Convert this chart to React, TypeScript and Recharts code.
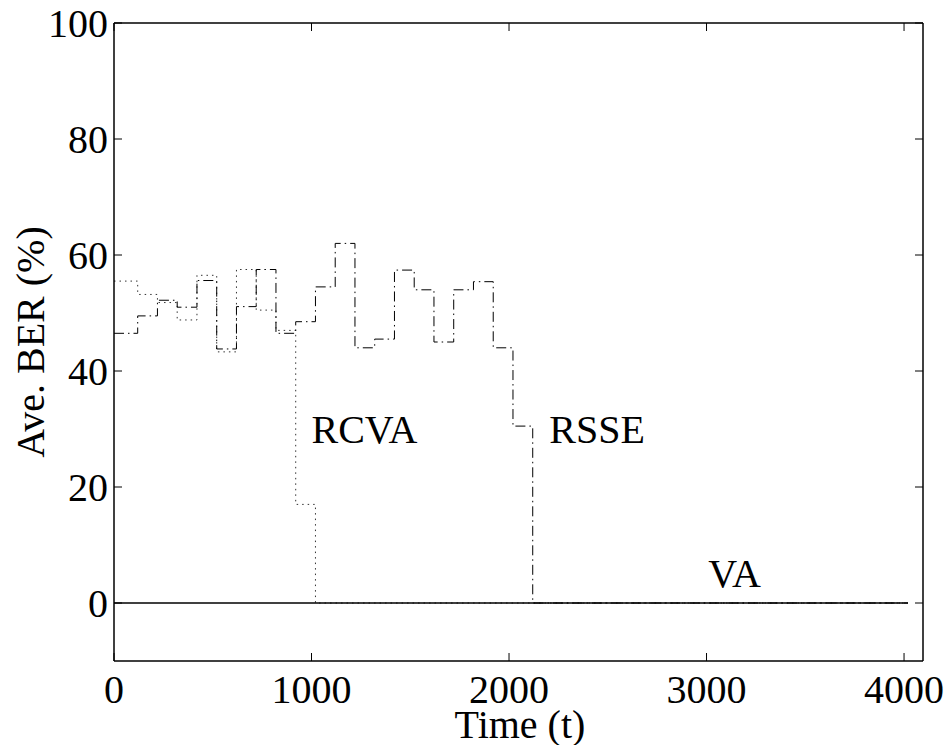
import React from "react";
import {
  LineChart,
  Line,
  XAxis,
  YAxis,
  ReferenceDot,
} from "recharts";

// block start times (last entry closes the final step)
const times = [
  0, 120, 220, 320, 420, 520, 620, 720, 820, 920, 1020, 1120, 1220, 1320,
  1420, 1520, 1620, 1720, 1820, 1920, 2020, 2120, 4020,
];
const rsse = [
  46.5, 49.5, 52.2, 51, 55.6, 43.8, 51.1, 57.5, 46.5, 48.5, 54.5, 62, 44, 45.5,
  57.4, 54, 45, 54, 55.4, 44, 30.5, 0, 0,
];
const rcva = [
  55.5, 53.2, 51.8, 48.8, 56.5, 43.3, 57.5, 50.5, 47, 17, 0, 0, 0, 0, 0, 0, 0,
  0, 0, 0, 0, 0, 0,
];
const va = [
  0, 0, 0, 0, 0, 0, 0, 0, 0, 0, 0, 0, 0, 0, 0, 0, 0, 0, 0, 0, 0, 0, 0,
];

const xTicks = [0, 1000, 2000, 3000, 4000];
const yTicks = [0, 20, 40, 60, 80, 100];

const labelNames = ["RCVA", "RSSE", "VA"];
const labelX = [1000, 2204, 3009];
const labelY = [27.6, 27.6, 2.7];

const data = times.map((t, i) => ({
  t,
  rsse: rsse[i],
  rcva: rcva[i],
  va: va[i],
}));

const FONT = '"Liberation Serif", "Times New Roman", serif';

function BottomTick(props: any) {
  const { x, y, payload } = props;
  return (
    <g>
      <line x1={x} y1={y} x2={x} y2={y - 8} stroke="#000" strokeWidth={1} />
      <text
        x={x}
        y={y + 42}
        textAnchor="middle"
        fontFamily={FONT}
        fontSize={40}
        fill="#000"
      >
        {payload.value}
      </text>
    </g>
  );
}

function TopTick(props: any) {
  const { x, y } = props;
  return <line x1={x} y1={y} x2={x} y2={y + 8} stroke="#000" strokeWidth={1} />;
}

function LeftTick(props: any) {
  const { x, y, payload } = props;
  return (
    <g>
      <line x1={x} y1={y} x2={x + 8} y2={y} stroke="#000" strokeWidth={1} />
      <text
        x={x - 6}
        y={y + 13.5}
        textAnchor="end"
        fontFamily={FONT}
        fontSize={40}
        fill="#000"
      >
        {payload.value}
      </text>
    </g>
  );
}

function RightTick(props: any) {
  const { x, y } = props;
  return <line x1={x} y1={y} x2={x - 8} y2={y} stroke="#000" strokeWidth={1} />;
}

function TextLabel(name: string) {
  return (props: any) => {
    const vb = props.viewBox || {};
    return (
      <text x={vb.x} y={vb.y} fontFamily={FONT} fontSize={40} fill="#000">
        {name}
      </text>
    );
  };
}

export default function App() {
  return (
    <div style={{ position: "absolute", left: 0, top: 0, background: "#fff" }}>
      <LineChart
        width={948}
        height={745}
        data={data}
        margin={{ top: 22, right: 24, bottom: 83, left: 113 }}
      >
        <XAxis
          dataKey="t"
          type="number"
          domain={[0, 4096]}
          ticks={xTicks}
          height={1}
          tickSize={0}
          tickMargin={0}
          tickLine={false}
          axisLine={{ stroke: "#000", strokeWidth: 1.5 }}
          tick={<BottomTick />}
          interval={0}
          allowDataOverflow
        />
        <XAxis
          xAxisId="top"
          orientation="top"
          dataKey="t"
          type="number"
          domain={[0, 4096]}
          ticks={xTicks}
          height={1}
          tickSize={0}
          tickMargin={0}
          tickLine={false}
          axisLine={{ stroke: "#000", strokeWidth: 1.5 }}
          tick={<TopTick />}
          interval={0}
          allowDataOverflow
        />
        <YAxis
          type="number"
          domain={[-10, 100]}
          ticks={yTicks}
          width={1}
          tickSize={0}
          tickMargin={0}
          tickLine={false}
          axisLine={{ stroke: "#000", strokeWidth: 1.5 }}
          tick={<LeftTick />}
          interval={0}
          allowDataOverflow
        />
        <YAxis
          yAxisId="right"
          orientation="right"
          type="number"
          domain={[-10, 100]}
          ticks={yTicks}
          width={1}
          tickSize={0}
          tickMargin={0}
          tickLine={false}
          axisLine={{ stroke: "#000", strokeWidth: 1.5 }}
          tick={<RightTick />}
          interval={0}
          allowDataOverflow
        />
        <Line
          dataKey="rcva"
          type="stepAfter"
          stroke="#333"
          strokeWidth={1}
          strokeDasharray="1.5 4"
          dot={false}
          isAnimationActive={false}
        />
        <Line
          dataKey="rsse"
          type="stepAfter"
          stroke="#000"
          strokeWidth={1}
          strokeDasharray="10 4 1.5 4"
          dot={false}
          isAnimationActive={false}
        />
        <Line
          dataKey="va"
          type="stepAfter"
          stroke="#000"
          strokeWidth={1.5}
          dot={false}
          isAnimationActive={false}
        />
        {labelNames.map((n, i) => (
          <ReferenceDot
            key={n}
            x={labelX[i]}
            y={labelY[i]}
            r={0}
            fill="none"
            stroke="none"
            ifOverflow="visible"
            label={TextLabel(n)}
          />
        ))}
      </LineChart>
      <svg
        width={948}
        height={745}
        style={{ position: "absolute", left: 0, top: 0, pointerEvents: "none" }}
      >
        <text
          x={520}
          y={738}
          textAnchor="middle"
          fontFamily={FONT}
          fontSize={40}
          fill="#000"
        >
          Time (t)
        </text>
        <text
          x={44}
          y={342}
          transform="rotate(-90 44 342)"
          textAnchor="middle"
          fontFamily={FONT}
          fontSize={40}
          fill="#000"
        >
          Ave. BER (%)
        </text>
      </svg>
    </div>
  );
}
